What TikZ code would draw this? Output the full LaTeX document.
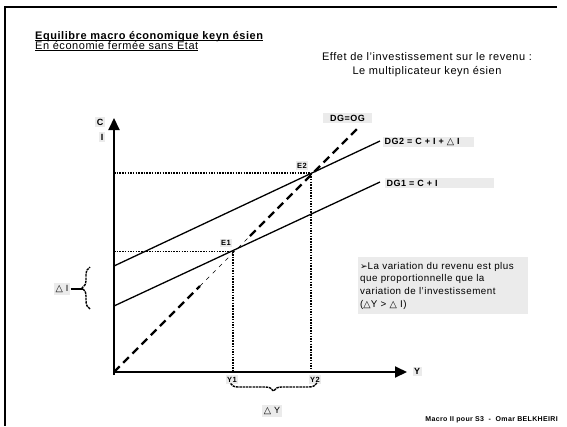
\documentclass[tikz,border=0pt]{standalone}
\usepackage{fontspec}
\setmainfont{Liberation Sans}[LetterSpace=5]
\newfontfamily\dv{DejaVu Sans}
\usetikzlibrary{arrows.meta,decorations.pathreplacing}
\definecolor{lbg}{HTML}{EBEBEB}
\begin{document}
\begin{tikzpicture}[x=1pt,y=-1pt,
  lab/.style={fill=lbg,inner sep=1.5pt,font=\bfseries\fontsize{9}{10}\selectfont},
  smalllab/.style={fill=lbg,inner sep=1.5pt,font=\bfseries\fontsize{7.5}{8}\selectfont},
  plainlab/.style={fill=lbg,inner sep=2pt,font=\fontsize{9}{10}\selectfont},
  axisline/.style={line width=2pt,-{Triangle[width=11pt,length=12pt]}},
  dgline/.style={line width=1.3pt},
  guide/.style={line width=1.9pt,dash pattern=on 1.5pt off 1.2pt},
  thickdash/.style={line width=2.3pt,dash pattern=on 8pt off 5pt},
  thindash/.style={line width=0.6pt,dash pattern=on 4pt off 5pt},
  bracestyle/.style={line width=1.4pt,dash pattern=on 2.5pt off 0.8pt,decorate,decoration={brace,amplitude=8pt}},
  tri/.style={},
]
\useasboundingbox (0,0) rectangle (567,426);
% frame
\draw[line width=2.5pt] (557,7) -- (5,7) -- (5,426);

% titles
\node[anchor=base west,inner sep=0,font=\bfseries\fontsize{11}{12}\selectfont] (t1) at (35,39.5) {Equilibre macro économique keyn ésien};
\draw[line width=1pt] ([yshift=-1.3pt]t1.base west) -- ([yshift=-1.3pt]t1.base east);
\node[anchor=base west,inner sep=0,font=\fontsize{11}{12}\selectfont] (t2) at (35,49.5) {En économie fermée sans Etat};
\draw[line width=0.8pt] ([yshift=-1.3pt]t2.base west) -- ([yshift=-1.3pt]t2.base east);

\node[anchor=base,inner sep=0,font=\fontsize{11}{12}\selectfont] (t3) at (427,60) {Effet de l’investissement sur le revenu :};
\node[anchor=base,inner sep=0,font=\fontsize{11}{12}\selectfont] (t4) at (427,74.3) {Le multiplicateur keyn ésien};

% coordinates
\coordinate (O) at (114,372);
\coordinate (Ytip) at (114,118);
\coordinate (Xtip) at (407,372);
\coordinate (E1) at (233,251.5);
\coordinate (E2) at (311,173.4);
\coordinate (A1) at (114,251.5);
\coordinate (A2) at (114,173.4);
\coordinate (B1) at (233,372);
\coordinate (B2) at (311,372);
\coordinate (D1s) at (114,306);
\coordinate (D1e) at (380,182);
\coordinate (D2s) at (114,266);
\coordinate (D2e) at (380,141);
\coordinate (P1) at (200,286);
\coordinate (P2) at (250,236);
\coordinate (Gend) at (357,129);

% guides
\draw[guide] (A2) -- (E2) -- (B2);
\draw[guide] (A1) -- (E1) -- (B1);

% DG lines
\draw[dgline] (D1s) -- (D1e);
\draw[dgline] (D2s) -- (D2e);

% 45 degree line
\draw[thickdash] (O) -- (P1);
\draw[thindash] (P1) -- (P2);
\draw[thickdash] (P2) -- (Gend);

% axes
\draw[axisline] ([yshift=-3pt]O) -- (Ytip);
\draw[axisline] (O) -- (Xtip);

% labels
\node[lab] (lC) at (100,122) {C};
\node[lab] (lI) at (102,137) {I};
\node[lab,minimum width=49pt] (lDG) at (347.5,118) {DG=OG};
\node[lab,anchor=west,text width=88pt,align=left] (lDG2) at (383,142) {DG2 = C + I + {\dv\mdseries\fontsize{9.5}{9}\selectfont △} I};
\node[lab,anchor=west,text width=106pt,align=left] (lDG1) at (385,183) {DG1 = C + I};
\node[smalllab] (lE1) at (226,243) {E1};
\node[smalllab] (lE2) at (302,165.5) {E2};
\node[smalllab] (lY1) at (232,379.5) {Y1};
\node[smalllab] (lY2) at (315,379.5) {Y2};
\node[lab] (lY) at (417,371.5) {Y};
\node[plainlab] (lDI) at (62,289) {{\dv\fontsize{9.5}{9}\selectfont △} I};
\node[plainlab] (lDY) at (272,411) {{\dv\fontsize{9.5}{9}\selectfont △} Y};

% braces
\coordinate (BI1) at (90,309);
\coordinate (BI2) at (90,267);
\draw[bracestyle] (BI1) -- (BI2);
\draw[line width=1.4pt] (lDI.east) -- ([xshift=-7pt]lDI.east -| BI1);
\coordinate (BY1) at (317,383);
\coordinate (BY2) at (230,383);
\draw[bracestyle] (BY1) -- (BY2);

% text box
\node[fill=lbg,anchor=north west,text width=166pt,minimum height=57pt,inner sep=2pt,align=left,
      font=\fontsize{9.8}{12.6}\selectfont] (box) at (358,257)
  {{\dv\fontsize{9}{9}\selectfont ➢}La variation du revenu est plus\\
   que proportionnelle que la\\
   variation de l’investissement\\
   ({\dv\fontsize{9.5}{9}\selectfont △}Y > {\dv\fontsize{9.5}{9}\selectfont △} I)};

% footer
\node[anchor=base east,inner sep=0,font=\bfseries\fontsize{7}{8}\selectfont] (foot) at (558,421) {Macro II pour S3 \ - \ Omar BELKHEIRI};
\end{tikzpicture}
\end{document}
